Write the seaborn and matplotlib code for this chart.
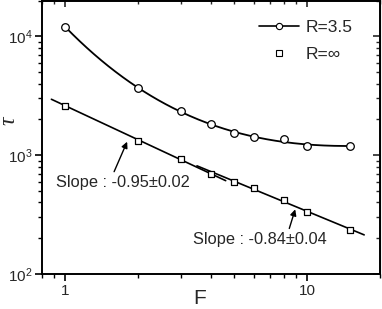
import numpy as np
import pandas as pd
import matplotlib
matplotlib.use("Agg")
import matplotlib.pyplot as plt
import seaborn as sns
from matplotlib.lines import Line2D
from matplotlib.ticker import LogLocator, LogFormatterMathtext, FixedLocator, FixedFormatter, NullFormatter

# ---- data ----
F_values = [1, 2, 3, 4, 5, 6, 8, 10, 15]
tau_R35 = [11960, 3650, 2355, 1825, 1535, 1410, 1365, 1185, 1200]
tau_Rinf = [2610, 1305, 930, 697, 600, 531, 419, 330, 233]
series_labels = ["R=3.5", "R=\u221e"]
slope_labels = ["Slope : -0.95\u00b10.02", "Slope : -0.84\u00b10.04"]
fit1_amp, fit1_exp, fit1_range = 2600, -0.95, [0.875, 4.6]
fit2_amp, fit2_exp, fit2_range = 2328, -0.84, [3.5, 17.2]

sns.set_style("ticks")
plt.rcParams["font.family"] = ["Liberation Sans", "DejaVu Sans"]
plt.rcParams["mathtext.fontset"] = "custom"
plt.rcParams["mathtext.rm"] = "Liberation Sans"
plt.rcParams["mathtext.it"] = "Liberation Sans:italic"

fig = plt.figure(figsize=(3.82, 3.09), dpi=100)
ax = fig.add_axes([42/382, 35/309, 338/382, 273.5/309])
ax.set_xscale("log")
ax.set_yscale("log")

df1 = pd.DataFrame({"F": F_values, "tau": tau_R35})
df2 = pd.DataFrame({"F": F_values, "tau": tau_Rinf})

# smooth curve through R=3.5 (cubic fit in log-log space)
coef = np.polyfit(np.log10(df1["F"]), np.log10(df1["tau"]), 3)
xs = np.logspace(np.log10(min(F_values)), np.log10(max(F_values)), 200)
curve = pd.DataFrame({"F": xs, "tau": 10 ** np.polyval(coef, np.log10(xs))})
sns.lineplot(data=curve, x="F", y="tau", ax=ax, color="black", lw=1.3, zorder=2)

# power-law fit lines for R=inf
x1 = np.logspace(np.log10(fit1_range[0]), np.log10(fit1_range[1]), 50)
x2 = np.logspace(np.log10(fit2_range[0]), np.log10(fit2_range[1]), 50)
sns.lineplot(x=x1, y=fit1_amp * x1 ** fit1_exp, ax=ax, color="black", lw=1.2, zorder=2)
sns.lineplot(x=x2, y=fit2_amp * x2 ** fit2_exp, ax=ax, color="black", lw=1.2, zorder=2)

sns.scatterplot(data=df1, x="F", y="tau", ax=ax, marker="o", s=30,
                facecolor="white", edgecolor="black", linewidth=0.9, zorder=3)
sns.scatterplot(data=df2, x="F", y="tau", ax=ax, marker="s", s=22,
                facecolor="white", edgecolor="black", linewidth=0.9, zorder=3)

ax.set_xlim(0.8, 20)
ax.set_ylim(100, 20000)

# ticks
ax.xaxis.set_major_locator(FixedLocator([1, 10]))
ax.xaxis.set_major_formatter(FixedFormatter(["1", "10"]))
ax.xaxis.set_minor_locator(LogLocator(base=10, subs=np.arange(2, 10)))
ax.xaxis.set_minor_formatter(NullFormatter())
ax.yaxis.set_major_locator(LogLocator(base=10))
ax.yaxis.set_major_formatter(LogFormatterMathtext())
ax.yaxis.set_minor_locator(LogLocator(base=10, subs=np.arange(2, 10)))
ax.yaxis.set_minor_formatter(NullFormatter())
ax.tick_params(which="major", direction="out", length=5, width=1.2, labelsize=11, pad=2, color="black")
ax.tick_params(which="minor", direction="out", length=3, width=1.0, color="black")

for sp in ax.spines.values():
    sp.set_linewidth(1.4)
    sp.set_color("black")

secx = ax.secondary_xaxis("top")
secx.xaxis.set_major_locator(FixedLocator([1, 10]))
secx.xaxis.set_minor_locator(LogLocator(base=10, subs=np.arange(2, 10)))
secx.tick_params(which="major", direction="in", length=5, width=1.2, labeltop=False)
secx.tick_params(which="minor", direction="in", length=3, width=1.0, labeltop=False)
secx.xaxis.set_major_formatter(NullFormatter())
secx.xaxis.set_minor_formatter(NullFormatter())
secy = ax.secondary_yaxis("right")
secy.yaxis.set_major_locator(LogLocator(base=10))
secy.yaxis.set_minor_locator(LogLocator(base=10, subs=np.arange(2, 10)))
secy.tick_params(which="major", direction="in", length=5, width=1.2, labelright=False)
secy.tick_params(which="minor", direction="in", length=3, width=1.0, labelright=False)
secy.yaxis.set_major_formatter(NullFormatter())
secy.yaxis.set_minor_formatter(NullFormatter())

ax.set_xlabel("F", fontsize=15)
ax.xaxis.set_label_coords(0.465, -0.055)
ax.set_ylabel("\u03c4", fontsize=17, fontstyle="italic", family="Liberation Serif")
ax.yaxis.set_label_coords(-0.066, 0.562)

# legend
handles = [
    Line2D([], [], color="black", lw=1.2, marker="o", markersize=4.5,
           markerfacecolor="white", markeredgecolor="black", markeredgewidth=0.8),
    Line2D([], [], color="none", marker="s", markersize=4.5,
           markerfacecolor="white", markeredgecolor="black", markeredgewidth=0.8),
]
leg = ax.legend(handles, series_labels, loc="upper right", frameon=False,
                fontsize=12.5, handlelength=2.3, handletextpad=0.4,
                labelspacing=0.7, bbox_to_anchor=(0.955, 0.975), borderaxespad=0.3)

# annotations
ax.annotate(slope_labels[0], xy=(1.80, 1297), xytext=(0.918, 589),
            fontsize=11.8, va="center", ha="left",
            arrowprops=dict(arrowstyle="-|>", color="black", lw=1.0,
                            mutation_scale=9, shrinkA=0, shrinkB=0,
                            relpos=(0.42, 1.0)))
ax.annotate(slope_labels[1], xy=(8.92, 350), xytext=(3.38, 196),
            fontsize=11.8, va="center", ha="left",
            arrowprops=dict(arrowstyle="-|>", color="black", lw=1.0,
                            mutation_scale=9, shrinkA=0, shrinkB=0,
                            relpos=(0.71, 1.0)))

fig.savefig("out.png", dpi=100)
